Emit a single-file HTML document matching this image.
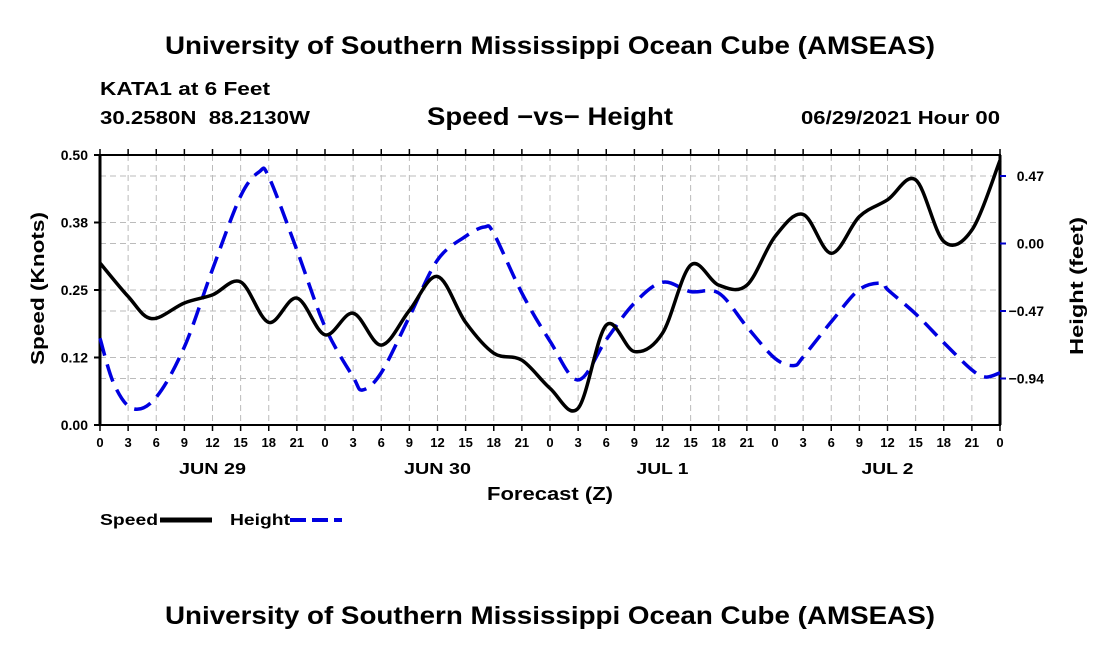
<!DOCTYPE html>
<html><head><meta charset="utf-8"><style>
body{margin:0;background:#fff;width:1100px;height:650px;overflow:hidden}
svg text{font-family:"Liberation Sans",sans-serif;font-weight:bold;fill:#000}
</style></head><body>
<svg id="c" width="1100" height="650">
<text x="165" y="54" font-size="25" textLength="770" lengthAdjust="spacingAndGlyphs">University of Southern Mississippi Ocean Cube (AMSEAS)</text>
<text x="100" y="95" font-size="18" textLength="170" lengthAdjust="spacingAndGlyphs">KATA1 at 6 Feet</text>
<text x="100" y="124" font-size="18" textLength="210" lengthAdjust="spacingAndGlyphs" xml:space="preserve">30.2580N  88.2130W</text>
<text x="427" y="125" font-size="25" textLength="246" lengthAdjust="spacingAndGlyphs">Speed −vs− Height</text>
<text x="801" y="124" font-size="18" textLength="199" lengthAdjust="spacingAndGlyphs">06/29/2021 Hour 00</text>
<g id="grid"></g><g id="axes"></g><g id="series"></g>
<text x="487" y="500" font-size="18" textLength="126" lengthAdjust="spacingAndGlyphs">Forecast (Z)</text>
<text transform="translate(44,365) rotate(-90)" font-size="18" textLength="153" lengthAdjust="spacingAndGlyphs">Speed (Knots)</text>
<text transform="translate(1083,355) rotate(-90)" font-size="18" textLength="138" lengthAdjust="spacingAndGlyphs">Height (feet)</text>
<g>
<text x="100" y="525" font-size="16" textLength="58" lengthAdjust="spacingAndGlyphs">Speed</text>
<line x1="160" y1="520" x2="212" y2="520" stroke="#000" stroke-width="5"/>
<text x="230" y="525" font-size="16" textLength="60" lengthAdjust="spacingAndGlyphs">Height</text>
<line x1="290" y1="520" x2="342" y2="520" stroke="#0000e0" stroke-width="4" stroke-dasharray="16,6"/>
</g>
<text x="165" y="624" font-size="25" textLength="770" lengthAdjust="spacingAndGlyphs">University of Southern Mississippi Ocean Cube (AMSEAS)</text>
</svg>
<script>
const speedHours=[0,3,5.5,9,12,15,18,21,24,27,30,33,36,39,42,45,48,51,54,57,60,63,66,69,72,75,78,81,84,87,90,93,96];
const speedVals=[0.30,0.238,0.197,0.226,0.241,0.265,0.19,0.235,0.167,0.207,0.148,0.212,0.275,0.19,0.133,0.12,0.068,0.031,0.185,0.136,0.17,0.296,0.259,0.259,0.349,0.39,0.318,0.386,0.417,0.454,0.34,0.361,0.49];
const heightHours=[0,1.5,3.5,6,9,12,15,17,18,21,24,27,28,30,33,36,39,41,42,45,48,51,54,57,60,63,66,69,72,74,75,78,81,83.5,84,87,90,93,94.5,96];
const heightVals=[-0.66,-0.98,-1.15,-1.07,-0.72,-0.18,0.33,0.50,0.465,-0.045,-0.58,-0.93,-1.02,-0.90,-0.51,-0.115,0.05,0.115,0.07,-0.345,-0.68,-0.95,-0.67,-0.415,-0.27,-0.335,-0.345,-0.58,-0.80,-0.85,-0.79,-0.545,-0.32,-0.275,-0.32,-0.49,-0.69,-0.88,-0.93,-0.90];
const leftTicks=[0,0.125,0.25,0.375,0.5];
const leftTickLabels=["0.00","0.12","0.25","0.38","0.50"];
const rightTicks=[-0.94,-0.47,0,0.47];
const rightTickLabels=["−0.94","−0.47","0.00","0.47"];
const hourLabels=["0","3","6","9","12","15","18","21"];
const dayLabels=["JUN 29","JUN 30","JUL 1","JUL 2"];
const L=100,R=1000,T=155,B=425;
const xS=h=>L+h*(R-L)/96;
const yL=v=>B-v*(B-T)/0.5;
const yR=v=>243.5-v*67.5/0.47;
const NS="http://www.w3.org/2000/svg";
function mk(tag,attrs,parent){const e=document.createElementNS(NS,tag);for(const k in attrs)e.setAttribute(k,attrs[k]);parent.appendChild(e);return e;}
const grid=document.getElementById('grid'),axes=document.getElementById('axes'),ser=document.getElementById('series');
const gs={stroke:"#bbb","stroke-width":1,"stroke-dasharray":"6,4"};
for(let h=3;h<96;h+=3){const g=mk('line',Object.assign({x1:xS(h),x2:xS(h),y1:T,y2:B},gs),grid);

}
const hy=[...leftTicks.map(yL),...rightTicks.map(yR)];
hy.forEach(y=>{if(y>T+1&&y<B-1){const g=mk('line',Object.assign({x1:L,x2:R,y1:y,y2:y},gs),grid);

}});
const fr=mk('rect',{x:L,y:T,width:R-L,height:B-T,fill:"none",stroke:"#000","stroke-width":2},axes);


mk('line',{x1:L,x2:L,y1:T,y2:B,stroke:"#000","stroke-width":3},axes);
mk('line',{x1:R,x2:R,y1:T,y2:B,stroke:"#000","stroke-width":3},axes);
leftTicks.forEach((v,i)=>{const y=yL(v);mk('line',{x1:L-6,x2:L,y1:y,y2:y,stroke:"#000","stroke-width":2},axes);
const t=mk('text',{x:L-12,y:y+5,"font-size":14,"text-anchor":"end"},axes);t.textContent=leftTickLabels[i];

});
rightTicks.forEach((v,i)=>{const y=yR(v);mk('line',{x1:R,x2:R+6,y1:y,y2:y,stroke:"#0000cc","stroke-width":2},axes);
const t=mk('text',{x:1044,y:y+5,"font-size":14,"text-anchor":"end"},axes);t.textContent=rightTickLabels[i];

});
for(let h=0;h<=96;h+=3){const x=xS(h);mk('line',{x1:x,x2:x,y1:B,y2:B+6,stroke:"#000","stroke-width":1.5},axes);mk('line',{x1:x,x2:x,y1:T-6,y2:T,stroke:"#000","stroke-width":1.5},axes);
const t=mk('text',{x:x,y:447,"font-size":13,"text-anchor":"middle"},axes);t.textContent=hourLabels[(h/3)%8];

}
dayLabels.forEach((d,i)=>{const t=mk('text',{x:xS(i*24+12),y:474,"font-size":16,"text-anchor":"middle",textLength:d.length>5?67:52,lengthAdjust:"spacingAndGlyphs"},axes);t.textContent=d;

});
function smooth(pts){let d="M"+pts[0][0]+","+pts[0][1];for(let i=0;i<pts.length-1;i++){const p0=pts[Math.max(0,i-1)],p1=pts[i],p2=pts[i+1],p3=pts[Math.min(pts.length-1,i+2)];
const c1=[p1[0]+(p2[0]-p0[0])/6,p1[1]+(p2[1]-p0[1])/6],c2=[p2[0]-(p3[0]-p1[0])/6,p2[1]-(p3[1]-p1[1])/6];
d+=" C"+c1+" "+c2+" "+p2;}return d;}
const hp=mk('path',{d:smooth(heightHours.map((h,i)=>[xS(h),yR(heightVals[i])])),fill:"none",stroke:"#0000e0","stroke-width":3.5,"stroke-dasharray":"18,9"},ser);


const sp=mk('path',{d:smooth(speedHours.map((h,i)=>[xS(h),yL(speedVals[i])])),fill:"none",stroke:"#000","stroke-width":3.5},ser);


</script>
</body></html>
